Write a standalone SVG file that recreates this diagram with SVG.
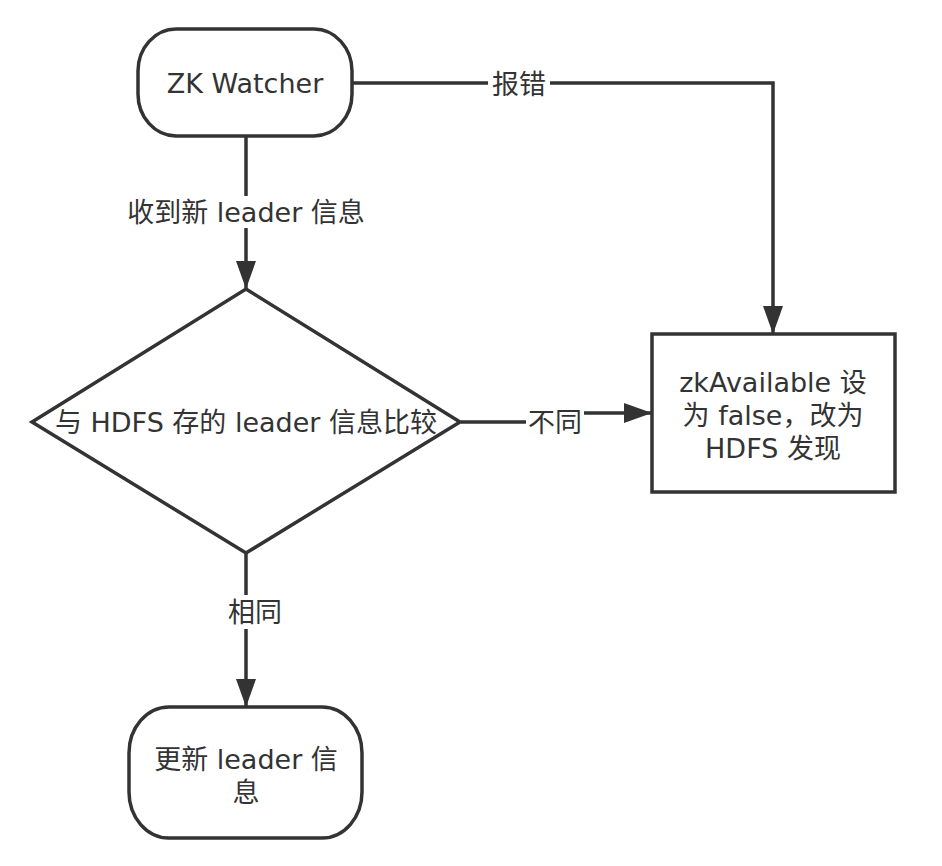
<svg xmlns="http://www.w3.org/2000/svg" width="942" height="866" viewBox="0 0 942 866">
<style>
.shape{fill:#fff;stroke:#333;stroke-width:3.5}
.edge{fill:none;stroke:#333;stroke-width:3.5}
.t{font-family:"DejaVu Sans","Noto Sans CJK SC",sans-serif;font-size:27px;fill:#333;text-anchor:middle;dominant-baseline:central}
.bg{fill:#fff}
</style>
<defs>
<marker id="arr" viewBox="0 0 28 20" refX="27" refY="10" markerWidth="28" markerHeight="20" markerUnits="userSpaceOnUse" orient="auto">
<path d="M0 0 L28 10 L0 20 Z" fill="#333"/>
</marker>
</defs>
<rect width="942" height="866" fill="#fff"/>
<g id="connectors">
<path class="edge" d="M246 137 V288" marker-end="url(#arr)"/>
<rect class="bg" x="120" y="196" width="252" height="32"/>
<text class="t" x="246" y="212">收到新 leader 信息</text>
<path class="edge" d="M353 83 H773 V333" marker-end="url(#arr)"/>
<rect class="bg" x="488" y="68" width="62" height="32"/>
<text class="t" x="519" y="84">报错</text>
<path class="edge" d="M461 422 H555 V413 H651" marker-end="url(#arr)"/>
<rect class="bg" x="526" y="404" width="58" height="34"/>
<text class="t" x="555" y="422">不同</text>
<path class="edge" d="M246 554 V706" marker-end="url(#arr)"/>
<rect class="bg" x="224" y="595" width="62" height="34"/>
<text class="t" x="255" y="612">相同</text>
</g>
<g id="zk-watcher">
<rect class="shape" x="138" y="29" width="214" height="107" rx="38" ry="42"/>
<text class="t" x="245" y="83">ZK Watcher</text>
</g>
<g id="compare">
<path class="shape" d="M246 289 L460 422 L246 553 L32 422 Z"/>
<text class="t" x="246" y="422">与 HDFS 存的 leader 信息比较</text>
</g>
<g id="zk-unavailable">
<rect class="shape" x="652" y="334" width="243" height="158"/>
<text class="t" x="773" y="382">zkAvailable 设</text>
<text class="t" x="773" y="415">为 false，改为</text>
<text class="t" x="773" y="448">HDFS 发现</text>
</g>
<g id="update">
<rect class="shape" x="129" y="707" width="233" height="131" rx="40" ry="46"/>
<text class="t" x="246" y="759">更新 leader 信</text>
<text class="t" x="246" y="792">息</text>
</g>
</svg>
